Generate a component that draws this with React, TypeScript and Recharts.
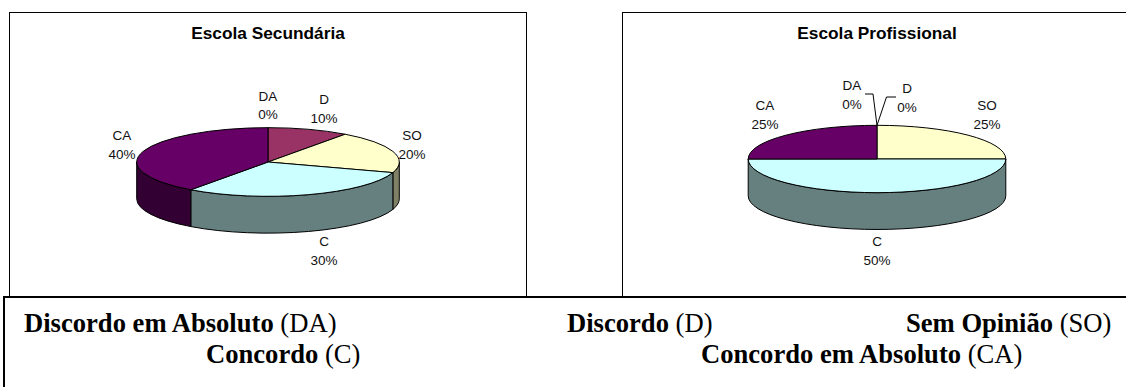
import { PieChart, Pie } from "recharts";

// categorias e valores
const categories = ["DA", "D", "SO", "C", "CA"];
const secundaria = [0, 10, 20, 30, 40];
const profissional = [0, 0, 25, 50, 25];
const topColors = ["#ccccff", "#993366", "#ffffcc", "#ccffff", "#660066"];
const wallColors = ["#666680", "#4d1a33", "#808066", "#668080", "#330033"];

// posição das etiquetas relativamente ao centro de cada tarte
const secundariaLabels = [[0, -61.5], [56, -58], [144, -22], [56, 84], [-146, -22]];
const profissionalLabels = [[-25, -69], [30, -66], [110, -49], [0, 87], [-112, -49]];
// linhas de chamada: [cotovelo x, y, fim x]
const profissionalLeaders: Record<number, number[]> = {
  0: [-4, -65, -12],
  1: [9.5, -62, 19],
};

const SQUASH = 0.2615;
const DEPTH = 36.8;

const buildData = (values: number[]) =>
  categories.map((name, i) => ({
    name,
    value: values[i],
    top: topColors[i],
    wall: wallColors[i],
  }));

const point = (cx: number, cy: number, r: number, angle: number) => {
  const rad = (angle * Math.PI) / 180;
  return [cx + r * Math.cos(rad), cy - r * SQUASH * Math.sin(rad)];
};

// face de cima: setor achatado em elipse
const TopSector = (props: any) => {
  const { cx, cy, outerRadius: r, startAngle, endAngle, payload } = props;
  if (Math.abs(startAngle - endAngle) < 0.01) return null;
  const [x1, y1] = point(cx, cy, r, startAngle);
  const [x2, y2] = point(cx, cy, r, endAngle);
  const large = Math.abs(startAngle - endAngle) > 180 ? 1 : 0;
  const d = `M${cx},${cy} L${x1},${y1} A${r},${r * SQUASH} 0 ${large} 1 ${x2},${y2} Z`;
  return <path d={d} fill={payload.top} stroke="#000" strokeWidth={1} strokeLinejoin="round" />;
};

// parede lateral: só a metade da frente fica visível
const WallSector = (props: any) => {
  const { cx, cy, outerRadius: r, startAngle, endAngle, payload } = props;
  const s = Math.min(startAngle, 0);
  const e = Math.max(endAngle, -180);
  if (s - e < 0.01) return null;
  const [x1, y1] = point(cx, cy, r, s);
  const [x2, y2] = point(cx, cy, r, e);
  const ry = r * SQUASH;
  const d = `M${x1},${y1} A${r},${ry} 0 0 1 ${x2},${y2} L${x2},${y2 + DEPTH} A${r},${ry} 0 0 0 ${x1},${y1 + DEPTH} Z`;
  return <path d={d} fill={payload.wall} stroke="#000" strokeWidth={1} strokeLinejoin="round" />;
};

const makeLabel = (places: number[][], leaders: Record<number, number[]>) => (props: any) => {
  const { cx, cy, index, name, value, outerRadius } = props;
  const [dx, dy] = places[index];
  const total = props.percent !== undefined ? Math.round(props.percent * 100) : value;
  const leader = leaders[index];
  return (
    <g key={name}>
      {leader && (
        <polyline
          points={`${cx},${cy - outerRadius * SQUASH} ${cx + leader[0]},${cy + leader[1]} ${cx + leader[2]},${cy + leader[1]}`}
          fill="none"
          stroke="#000"
          strokeWidth={1}
        />
      )}
      <text x={cx + dx} y={cy + dy} textAnchor="middle" fontSize={13.5} fontFamily="Liberation Sans" fill="#111">
        <tspan x={cx + dx}>{name}</tspan>
        <tspan x={cx + dx} dy={18.5}>{`${total}%`}</tspan>
      </text>
    </g>
  );
};

interface PanelProps {
  title: string;
  values: number[];
  left: number;
  width: number;
  cx: number;
  cy: number;
  radius: number;
  places: number[][];
  leaders?: Record<number, number[]>;
  borderRight?: boolean;
}

function Panel({ title, values, left, width, cx, cy, radius, places, leaders = {}, borderRight = true }: PanelProps) {
  const data = buildData(values);
  return (
    <div
      style={{
        position: "absolute",
        left,
        top: 12,
        width,
        height: 285,
        boxSizing: "border-box",
        borderTop: "1px solid #000",
        borderLeft: "1px solid #000",
        borderRight: borderRight ? "1px solid #000" : "none",
        background: "#fff",
      }}
    >
      <div
        style={{
          position: "absolute",
          left: cx - 150,
          width: 300,
          top: 10,
          textAlign: "center",
          fontFamily: "Liberation Sans",
          fontWeight: "bold",
          fontSize: 17.3,
          color: "#000",
        }}
      >
        {title}
      </div>
      <PieChart width={width - 2} height={284} margin={{ top: 0, right: 0, bottom: 0, left: 0 }}>
        <Pie
          data={data}
          dataKey="value"
          nameKey="name"
          cx={cx}
          cy={cy}
          outerRadius={radius}
          startAngle={90}
          endAngle={-270}
          shape={WallSector}
          label={false}
          labelLine={false}
          isAnimationActive={false}
        />
        <Pie
          data={data}
          dataKey="value"
          nameKey="name"
          cx={cx}
          cy={cy}
          outerRadius={radius}
          startAngle={90}
          endAngle={-270}
          shape={TopSector}
          label={makeLabel(places, leaders)}
          labelLine={false}
          isAnimationActive={false}
        />
      </PieChart>
    </div>
  );
}

const legendLines = [
  { bold: "Discordo em Absoluto", code: "(DA)", x: 24, y: 308 },
  { bold: "Discordo", code: "(D)", x: 567, y: 308 },
  { bold: "Sem Opinião", code: "(SO)", x: 906, y: 308 },
  { bold: "Concordo", code: "(C)", x: 206, y: 339 },
  { bold: "Concordo em Absoluto", code: "(CA)", x: 701, y: 339 },
];

export default function App() {
  return (
    <div style={{ position: "fixed", left: 0, top: 0, width: 1126, height: 387, overflow: "hidden", background: "#fff" }}>
      <Panel title="Escola Secundária" values={secundaria} left={9} width={518} cx={258} cy={149} radius={131.3} places={secundariaLabels} />
      <Panel
        title="Escola Profissional"
        values={profissional}
        left={622}
        width={520}
        cx={254}
        cy={146}
        radius={128.8}
        places={profissionalLabels}
        leaders={profissionalLeaders}
        borderRight={false}
      />
      <div
        style={{
          position: "absolute",
          left: 3,
          top: 296,
          width: 1140,
          height: 100,
          borderTop: "2px solid #000",
          borderLeft: "2px solid #000",
          background: "#fff",
        }}
      />
      {legendLines.map((l) => (
        <div
          key={l.bold}
          style={{
            position: "absolute",
            left: l.x,
            top: l.y,
            fontFamily: "Liberation Serif",
            fontSize: 26.6,
            color: "#000",
            whiteSpace: "nowrap",
          }}
        >
          <b>{l.bold}</b> {l.code}
        </div>
      ))}
    </div>
  );
}
